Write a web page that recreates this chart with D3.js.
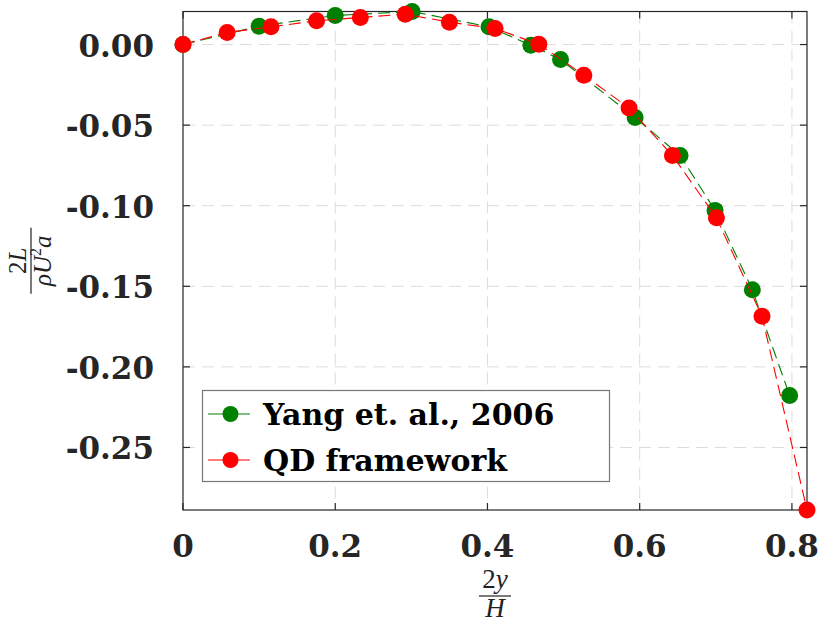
<!DOCTYPE html>
<html>
<head>
<meta charset="utf-8">
<script src="https://cdn.jsdelivr.net/npm/d3@7"></script>
<style>
  body { margin: 0; background: #fff; }
  svg { display: block; }
</style>
</head>
<body>
<div class="container"></div>
<script>
// Yang et. al., 2006
const yangX = [0, 0.1, 0.2, 0.301, 0.402, 0.457, 0.496, 0.594, 0.653, 0.699, 0.748, 0.797];
const yangY = [0, 0.0114, 0.018, 0.0205, 0.011, -0.0004, -0.0093, -0.0453, -0.0688, -0.1029, -0.1522, -0.2178];
// QD framework
const qdX = [0, 0.058, 0.1156, 0.1755, 0.233, 0.292, 0.35, 0.41, 0.4675, 0.5266, 0.586, 0.643, 0.7008, 0.7607, 0.8198];
const qdY = [0, 0.0075, 0.011, 0.0147, 0.0168, 0.0188, 0.0139, 0.0099, 0.0002, -0.019, -0.0394, -0.0688, -0.1075, -0.1686, -0.2888];

const xTicks = [0, 0.2, 0.4, 0.6, 0.8];
const xTickLabels = ['0', '0.2', '0.4', '0.6', '0.8'];
const yTicks = [0, -0.05, -0.1, -0.15, -0.2, -0.25];
const yTickLabels = ['0.00', '-0.05', '-0.10', '-0.15', '-0.20', '-0.25'];

const seriesNames = ['Yang et. al., 2006', 'QD framework'];
const seriesColors = ['#008000', '#ff0000'];

const width = 823;
const height = 625;
const plotLeft = 183, plotRight = 807, plotTop = 11.5, plotBottom = 510;
const axisColor = '#262626';
const tickFont = '"DejaVu Serif", serif';

const svg = d3.select('.container').append('svg')
    .attr('width', width)
    .attr('height', height);

const x = d3.scaleLinear().domain([0, 0.8198]).range([plotLeft, plotRight]);
const y = d3.scaleLinear().domain([-0.2888, 0.0205]).range([plotBottom, plotTop]);

// grid
const grid = svg.append('g').attr('stroke', '#dcdcdc').attr('stroke-width', 1)
    .attr('stroke-dasharray', '12,7');
grid.selectAll('.gx').data(xTicks.filter(d => d > 0)).enter().append('line')
    .attr('x1', d => x(d)).attr('x2', d => x(d))
    .attr('y1', plotTop).attr('y2', plotBottom);
grid.selectAll('.gy').data(yTicks).enter().append('line')
    .attr('y1', d => y(d)).attr('y2', d => y(d))
    .attr('x1', plotLeft).attr('x2', plotRight);

// axes box with inward ticks
const axes = svg.append('g').attr('stroke', axisColor).attr('stroke-width', 1.2);
axes.append('rect')
    .attr('x', plotLeft).attr('y', plotTop)
    .attr('width', plotRight - plotLeft).attr('height', plotBottom - plotTop)
    .attr('fill', 'none');
const tickLen = 7;
xTicks.forEach(t => {
    axes.append('line').attr('x1', x(t)).attr('x2', x(t)).attr('y1', plotBottom).attr('y2', plotBottom - tickLen);
    axes.append('line').attr('x1', x(t)).attr('x2', x(t)).attr('y1', plotTop).attr('y2', plotTop + tickLen);
});
yTicks.forEach(t => {
    axes.append('line').attr('y1', y(t)).attr('y2', y(t)).attr('x1', plotLeft).attr('x2', plotLeft + tickLen);
    axes.append('line').attr('y1', y(t)).attr('y2', y(t)).attr('x1', plotRight).attr('x2', plotRight - tickLen);
});

// tick labels
svg.append('g').selectAll('text').data(xTicks).enter().append('text')
    .attr('x', d => x(d))
    .attr('y', 557)
    .attr('text-anchor', 'middle')
    .style('font-family', tickFont)
    .style('font-weight', 'bold')
    .style('font-size', '31px')
    .attr('fill', axisColor)
    .text((d, i) => xTickLabels[i]);

svg.append('g').selectAll('text').data(yTicks).enter().append('text')
    .attr('x', 154)
    .attr('y', d => y(d) + 12)
    .attr('text-anchor', 'end')
    .style('font-family', tickFont)
    .style('font-weight', 'bold')
    .style('font-size', '31px')
    .attr('fill', axisColor)
    .text((d, i) => yTickLabels[i]);

// series
const line = d3.line().x(d => x(d[0])).y(d => y(d[1]));
const series = [d3.zip(yangX, yangY), d3.zip(qdX, qdY)];

series.forEach((pts, i) => {
    const g = svg.append('g');
    g.append('path')
        .attr('d', line(pts))
        .attr('fill', 'none')
        .attr('stroke', seriesColors[i])
        .attr('stroke-width', 1.1)
        .attr('stroke-dasharray', '12,6');
    g.selectAll('circle').data(pts).enter().append('circle')
        .attr('cx', d => x(d[0]))
        .attr('cy', d => y(d[1]))
        .attr('r', 8.5)
        .attr('fill', seriesColors[i]);
});

// legend
const legend = svg.append('g');
legend.append('rect')
    .attr('x', 202.5).attr('y', 390.5)
    .attr('width', 407).attr('height', 91)
    .attr('fill', '#fff')
    .attr('stroke', '#777')
    .attr('stroke-width', 1.2);
seriesNames.forEach((name, i) => {
    const cy = 414 + i * 46;
    legend.append('line')
        .attr('x1', 208).attr('x2', 250)
        .attr('y1', cy).attr('y2', cy)
        .attr('stroke', seriesColors[i]).attr('stroke-width', 1.1);
    legend.append('circle')
        .attr('cx', 230.5).attr('cy', cy).attr('r', 8)
        .attr('fill', seriesColors[i]);
    legend.append('text')
        .attr('x', 263).attr('y', cy + 11)
        .style('font-family', tickFont)
        .style('font-weight', 'bold')
        .style('font-size', '30px')
        .attr('fill', '#000')
        .text(name);
});

// x label: 2y / H
const mathFont = '"Liberation Serif", serif';
const xl = svg.append('g').attr('transform', `translate(${(plotLeft + plotRight) / 2},596)`);
xl.append('line').attr('x1', -16).attr('x2', 16).attr('y1', 0).attr('y2', 0)
    .attr('stroke', '#222').attr('stroke-width', 1.2);
xl.append('text').attr('y', -8).attr('text-anchor', 'middle')
    .style('font-family', mathFont).style('font-size', '27px').attr('fill', '#222')
    .html('2<tspan font-style="italic">y</tspan>');
xl.append('text').attr('y', 21).attr('text-anchor', 'middle')
    .style('font-family', mathFont).style('font-size', '27px').style('font-style', 'italic').attr('fill', '#222')
    .text('H');

// y label: 2L / (rho U^2 a)
const yl = svg.append('g').attr('transform', `translate(31,${(plotTop + plotBottom) / 2}) rotate(-90)`);
yl.append('line').attr('x1', -33).attr('x2', 33).attr('y1', 0).attr('y2', 0)
    .attr('stroke', '#222').attr('stroke-width', 1.2);
yl.append('text').attr('y', -5).attr('text-anchor', 'middle')
    .style('font-family', mathFont).style('font-size', '25px').attr('fill', '#222')
    .html('2<tspan font-style="italic">L</tspan>');
yl.append('text').attr('y', 20).attr('text-anchor', 'middle')
    .style('font-family', mathFont).style('font-size', '25px').style('font-style', 'italic').attr('fill', '#222')
    .html('ρU<tspan font-style="normal" font-size="16px" dy="-10">2</tspan><tspan dy="10">a</tspan>');
</script>
</body>
</html>
